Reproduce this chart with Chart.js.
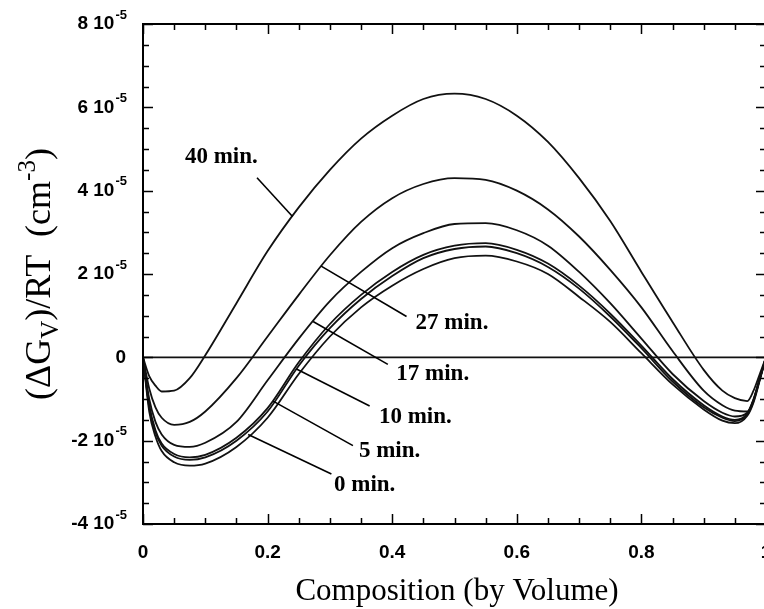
<!DOCTYPE html>
<html>
<head>
<meta charset="utf-8">
<script src="https://cdn.jsdelivr.net/npm/chart.js@4/dist/chart.umd.min.js"></script>
<style>
html,body{margin:0;padding:0;background:#fff;overflow:hidden;width:764px;height:609px;}
#wrap{width:800px;height:609px;}
canvas{display:block;}
</style>
</head>
<body>
<div id="wrap"><canvas id="c" width="800" height="609"></canvas></div>
<script>
// Composition grid (volume fraction)
const xGrid = [0, 0.01, 0.02, 0.03, 0.05, 0.075, 0.1, 0.15, 0.2, 0.25, 0.3, 0.35, 0.4, 0.45, 0.5, 0.55, 0.6, 0.65, 0.7, 0.75, 0.8, 0.85, 0.9, 0.93, 0.95, 0.97, 0.98, 0.99, 1.0];
// (ΔG_V)/RT in units of 1e-5 cm^-3
const t0min  = [0, -1.3, -1.9, -2.25, -2.52, -2.6, -2.55, -2.15, -1.45, -0.4, 0.5, 1.2, 1.72, 2.12, 2.38, 2.44, 2.3, 2.0, 1.45, 0.85, 0.1, -0.65, -1.25, -1.52, -1.58, -1.4, -1.08, -0.55, 0];
const t5min  = [0, -1.2, -1.8, -2.12, -2.38, -2.46, -2.4, -2.0, -1.3, -0.2, 0.7, 1.4, 1.95, 2.38, 2.6, 2.66, 2.5, 2.17, 1.65, 0.98, 0.22, -0.58, -1.2, -1.45, -1.53, -1.37, -1.05, -0.53, 0];
const t10min = [0, -1.15, -1.75, -2.07, -2.32, -2.4, -2.34, -1.93, -1.22, -0.12, 0.8, 1.5, 2.05, 2.46, 2.68, 2.74, 2.58, 2.25, 1.72, 1.05, 0.28, -0.52, -1.15, -1.42, -1.5, -1.35, -1.03, -0.52, 0];
const t17min = [0, -1.0, -1.55, -1.85, -2.1, -2.15, -2.05, -1.55, -0.55, 0.45, 1.35, 2.05, 2.62, 2.98, 3.2, 3.22, 3.05, 2.68, 2.05, 1.3, 0.45, -0.4, -1.05, -1.33, -1.42, -1.33, -1.02, -0.5, 0];
const t27min = [0, -0.75, -1.2, -1.45, -1.62, -1.55, -1.3, -0.5, 0.5, 1.5, 2.45, 3.25, 3.82, 4.16, 4.3, 4.26, 4.0, 3.55, 2.9, 2.1, 1.2, 0.15, -0.8, -1.15, -1.28, -1.3, -1.0, -0.5, 0];
const t40min = [0, -0.45, -0.68, -0.82, -0.8, -0.5, 0.05, 1.3, 2.55, 3.6, 4.5, 5.25, 5.8, 6.2, 6.33, 6.2, 5.8, 5.17, 4.3, 3.27, 2.05, 0.85, -0.3, -0.8, -0.98, -1.05, -0.8, -0.4, 0];

const seriesNames = ['0 min.', '5 min.', '10 min.', '17 min.', '27 min.', '40 min.'];
const seriesValues = [t0min, t5min, t10min, t17min, t27min, t40min];

// Curve label anchors (data coords: text left edge, vertical middle) and leader lines
const labelAnchors = [[0.3066,-3.07],[0.3466,-2.24],[0.3787,-1.44],[0.4066,-0.41],[0.4375,0.83],[0.0673,4.81]];
const leaderFrom = [[0.1688,-1.85],[0.2088,-1.05],[0.2463,-0.28],[0.273,0.86],[0.286,2.19],[0.183,4.31]];
const leaderTo   = [[0.3024,-2.80],[0.337,-2.12],[0.3638,-1.17],[0.393,-0.17],[0.423,0.98],[0.240,3.38]];

// Tick labels
const xTickValues = [0, 0.2, 0.4, 0.6, 0.8, 1];
const xTickLabels = ['0', '0.2', '0.4', '0.6', '0.8', '1'];
const yTickValues = [8, 6, 4, 2, 0, -2, -4];
const yTickMantissa = ['8 10', '6 10', '4 10', '2 10', '0', '-2 10', '-4 10'];
const yTickExponent = ['-5', '-5', '-5', '-5', '', '-5', '-5'];

const datasets = seriesValues.map((vals, i) => ({
  label: seriesNames[i],
  data: xGrid.map((x, j) => ({x: x, y: vals[j]})),
  borderColor: '#111',
  borderWidth: 1.8,
  pointRadius: 0,
  fill: false,
  cubicInterpolationMode: 'monotone'
}));
datasets.push({
  label: 'zero',
  data: [{x: 0, y: 0}, {x: 1, y: 0}],
  borderColor: '#111',
  borderWidth: 1.6,
  pointRadius: 0,
  fill: false
});

const decor = {
  id: 'decor',
  afterDraw(chart) {
    const ctx = chart.ctx, a = chart.chartArea;
    const xs = chart.scales.x, ys = chart.scales.y;
    ctx.save();
    ctx.strokeStyle = '#000';
    ctx.fillStyle = '#000';
    // frame
    ctx.lineWidth = 2;
    ctx.strokeRect(a.left, a.top, a.right - a.left, a.bottom - a.top);
    // inward ticks
    ctx.lineWidth = 1.5;
    xs.ticks.forEach(t => {
      const v = t.value;
      const major = Math.abs(v / 0.2 - Math.round(v / 0.2)) < 1e-6;
      const len = major ? 10 : 6;
      const px = Math.round(xs.getPixelForValue(v)) + 0.5;
      ctx.beginPath();
      ctx.moveTo(px, a.bottom); ctx.lineTo(px, a.bottom - len);
      ctx.moveTo(px, a.top); ctx.lineTo(px, a.top + len);
      ctx.stroke();
    });
    ys.ticks.forEach(t => {
      const v = t.value;
      const major = Math.abs(v / 2 - Math.round(v / 2)) < 1e-6;
      const len = major ? 10 : 6;
      const py = Math.round(ys.getPixelForValue(v)) + 0.5;
      ctx.beginPath();
      ctx.moveTo(a.left, py); ctx.lineTo(a.left + len, py);
      ctx.moveTo(a.right, py); ctx.lineTo(a.right - len, py);
      ctx.stroke();
    });
    // x tick labels
    ctx.font = 'bold 19px "Liberation Sans", Arial, sans-serif';
    ctx.textAlign = 'center';
    ctx.textBaseline = 'middle';
    xTickValues.forEach((v, i) => {
      ctx.fillText(xTickLabels[i], xs.getPixelForValue(v), a.bottom + 29);
    });
    // y tick labels with superscript exponent
    const rightEdge = a.left - 17;
    yTickValues.forEach((v, i) => {
      const py = ys.getPixelForValue(v);
      ctx.textBaseline = 'middle';
      ctx.textAlign = 'left';
      ctx.font = 'bold 13px "Liberation Sans", Arial, sans-serif';
      const ew = yTickExponent[i] ? ctx.measureText(yTickExponent[i]).width : 0;
      ctx.font = 'bold 19px "Liberation Sans", Arial, sans-serif';
      const mw = ctx.measureText(yTickMantissa[i]).width;
      const x0 = rightEdge - ew - mw;
      ctx.fillText(yTickMantissa[i], x0, py);
      if (yTickExponent[i]) {
        ctx.font = 'bold 13px "Liberation Sans", Arial, sans-serif';
        ctx.fillText(yTickExponent[i], x0 + mw + 1, py - 9);
      }
    });
    // x axis title
    ctx.font = '31px "Liberation Serif", "Times New Roman", serif';
    ctx.textAlign = 'center';
    ctx.textBaseline = 'middle';
    ctx.fillText('Composition (by Volume)', 457, 592);
    // y axis title (rotated, with subscript and superscript)
    const parts = [
      {t: '(ΔG', f: '36px "Liberation Serif", serif', dy: 0},
      {t: 'V', f: '25px "Liberation Serif", serif', dy: 8},
      {t: ')/RT  (cm', f: '36px "Liberation Serif", serif', dy: 0},
      {t: '-3', f: '25px "Liberation Serif", serif', dy: -15},
      {t: ')', f: '36px "Liberation Serif", serif', dy: 0}
    ];
    let total = 0;
    parts.forEach(p => { ctx.font = p.f; p.w = ctx.measureText(p.t).width; total += p.w; });
    ctx.save();
    ctx.translate(50, 274);
    ctx.rotate(-Math.PI / 2);
    ctx.textAlign = 'left';
    ctx.textBaseline = 'alphabetic';
    let cx = -total / 2;
    parts.forEach(p => { ctx.font = p.f; ctx.fillText(p.t, cx, p.dy); cx += p.w; });
    ctx.restore();
    // curve labels and leader lines
    ctx.lineWidth = 1.6;
    for (let i = 0; i < seriesNames.length; i++) {
      ctx.beginPath();
      ctx.moveTo(xs.getPixelForValue(leaderFrom[i][0]), ys.getPixelForValue(leaderFrom[i][1]));
      ctx.lineTo(xs.getPixelForValue(leaderTo[i][0]), ys.getPixelForValue(leaderTo[i][1]));
      ctx.stroke();
      ctx.font = 'bold 23px "Liberation Serif", "Times New Roman", serif';
      ctx.textAlign = 'left';
      ctx.textBaseline = 'middle';
      ctx.fillText(seriesNames[i], xs.getPixelForValue(labelAnchors[i][0]), ys.getPixelForValue(labelAnchors[i][1]));
    }
    ctx.restore();
  }
};

new Chart(document.getElementById('c'), {
  type: 'line',
  data: {datasets: datasets},
  options: {
    responsive: false,
    animation: false,
    devicePixelRatio: 1,
    layout: {padding: {left: 143, top: 24, right: 34, bottom: 85}},
    plugins: {legend: {display: false}, tooltip: {enabled: false}},
    scales: {
      x: {type: 'linear', min: 0, max: 1,
          ticks: {display: false, stepSize: 0.05},
          grid: {display: false, drawTicks: false}, border: {display: false}},
      y: {type: 'linear', min: -4, max: 8,
          ticks: {display: false, stepSize: 0.5},
          grid: {display: false, drawTicks: false}, border: {display: false}}
    }
  },
  plugins: [decor]
});
</script>
</body>
</html>
